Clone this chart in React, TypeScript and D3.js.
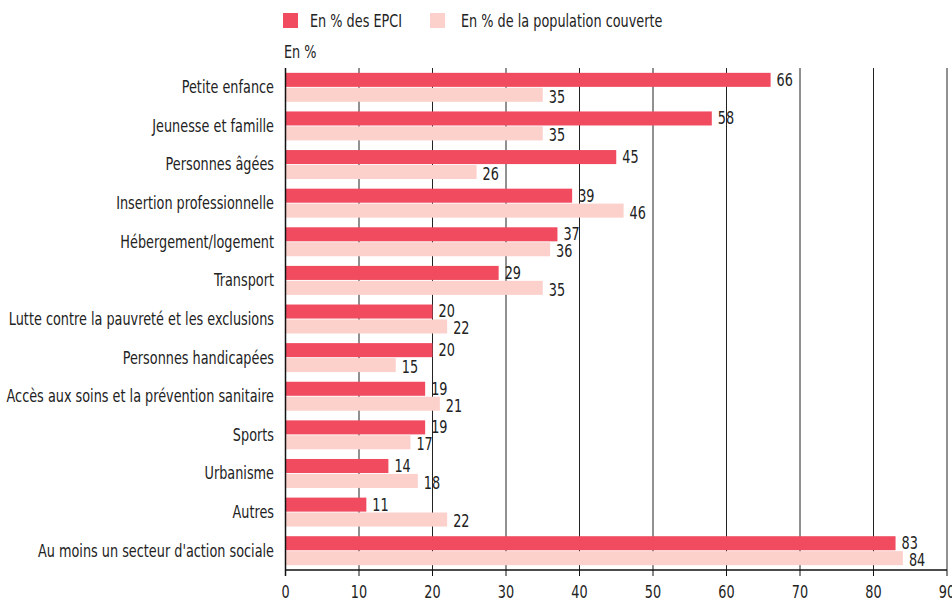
import React from 'react';
import * as d3 from 'd3';

const categories = [
  'Petite enfance',
  'Jeunesse et famille',
  'Personnes âgées',
  'Insertion professionnelle',
  'Hébergement/logement',
  'Transport',
  'Lutte contre la pauvreté et les exclusions',
  'Personnes handicapées',
  'Accès aux soins et la prévention sanitaire',
  'Sports',
  'Urbanisme',
  'Autres',
  "Au moins un secteur d'action sociale",
];
const epciValues = [66, 58, 45, 39, 37, 29, 20, 20, 19, 19, 14, 11, 83];
const popValues = [35, 35, 26, 46, 36, 35, 22, 15, 21, 17, 18, 22, 84];
const seriesNames = ['En % des EPCI', 'En % de la population couverte'];
const seriesColors = ['#F04B5F', '#FCD0CB'];
const xTicks = [0, 10, 20, 30, 40, 50, 60, 70, 80, 90];

const FONT = '"DejaVu Sans Condensed", "DejaVu Sans", sans-serif';
const SX = 0.84; // squeeze glyphs to look like a condensed face

// text squeezed horizontally around its anchor point
function Label({ x, y, anchor = 'start', size = 17, dy, children }: any) {
  return (
    <text
      transform={`translate(${x},${y}) scale(${SX},1)`}
      textAnchor={anchor}
      fontSize={size}
      dy={dy}
      fill="#222"
    >
      {children}
    </text>
  );
}

export default function App() {
  const width = 952;
  const height = 603;
  const top = 68;
  const bottom = 570;

  const x = d3.scaleLinear().domain([0, 90]).range([285.5, 947]);
  const y = d3.scaleBand<string>()
    .domain(categories)
    .range([top, bottom])
    .paddingInner(0.25)
    .paddingOuter(0.125);
  const inner = d3.scaleBand<number>()
    .domain([0, 1])
    .range([0, y.bandwidth()])
    .paddingInner(0.06);

  const series = [epciValues, popValues];

  return (
    <svg width={width} height={height} style={{ position: 'absolute', left: 0, top: 0 }} fontFamily={FONT}>
      <rect width={width} height={height} fill="#fff" />

      {/* legend */}
      <rect x={283} y={13} width={15} height={15} fill={seriesColors[0]} />
      <Label x={310} y={27}>{seriesNames[0]}</Label>
      <rect x={430} y={13} width={15} height={15} fill={seriesColors[1]} />
      <Label x={461} y={27}>{seriesNames[1]}</Label>
      <Label x={284} y={58}>En %</Label>

      {/* grid */}
      {xTicks.slice(1).map((t) => (
        <line key={t} x1={x(t)} x2={x(t)} y1={top} y2={bottom} stroke="#222" strokeWidth={1} />
      ))}

      {/* bars */}
      {categories.map((c, i) => (
        <g key={c} transform={`translate(0,${y(c)})`}>
          {series.map((vals, s) => (
            <g key={s}>
              <rect
                x={x(0)}
                y={inner(s)}
                width={x(vals[i]) - x(0)}
                height={inner.bandwidth()}
                fill={seriesColors[s]}
              />
              <Label
                x={x(vals[i]) + 6}
                y={(inner(s) as number) + inner.bandwidth() / 2 + (s === 0 ? 0 : 2)}
                dy="0.35em"
              >
                {vals[i]}
              </Label>
            </g>
          ))}
          <Label x={274} y={y.bandwidth() / 2} dy="0.35em" anchor="end">{c}</Label>
        </g>
      ))}

      {/* axes */}
      <line x1={x(0)} x2={x(0)} y1={top} y2={bottom + 6} stroke="#111" strokeWidth={1.5} />
      <line x1={x(0)} x2={x(90)} y1={bottom} y2={bottom} stroke="#111" strokeWidth={1.5} />
      {xTicks.map((t) => (
        <g key={t}>
          <line x1={x(t)} x2={x(t)} y1={bottom} y2={bottom + 6} stroke="#111" strokeWidth={1} />
          <Label x={x(t)} y={598} anchor="middle">{t}</Label>
        </g>
      ))}
    </svg>
  );
}
